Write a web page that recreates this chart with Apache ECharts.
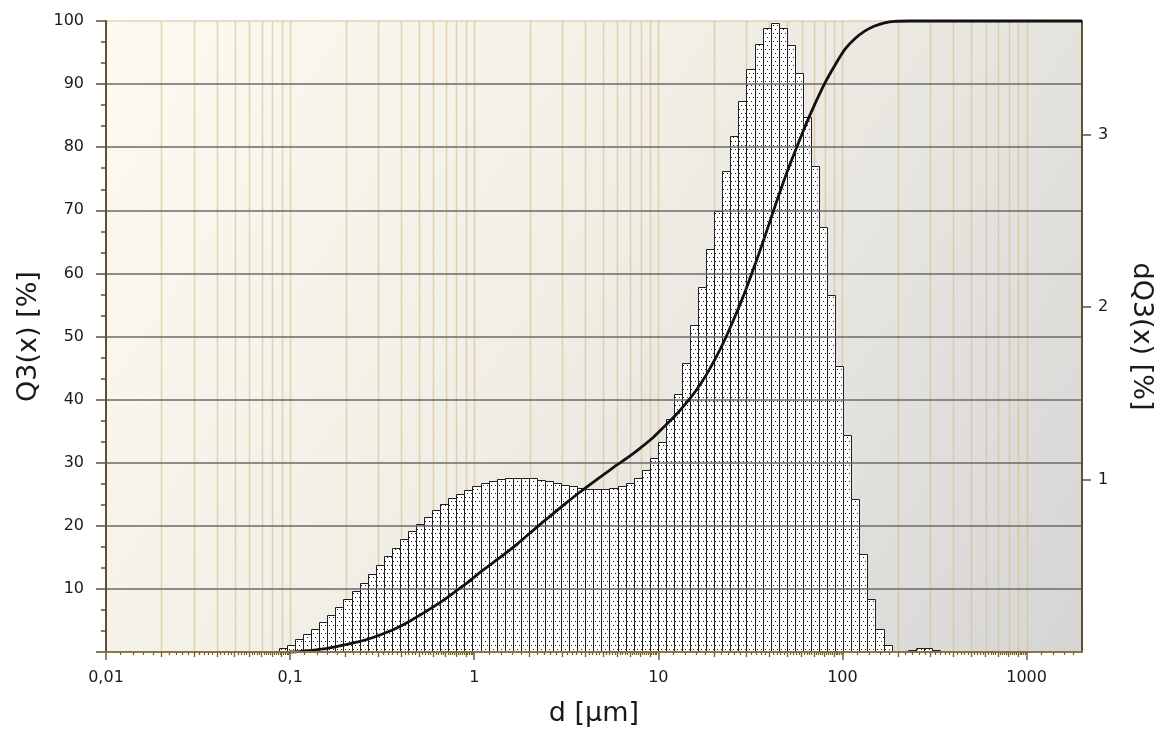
<!DOCTYPE html>
<html><head><meta charset="utf-8">
<script src="https://cdn.jsdelivr.net/npm/echarts@6/dist/echarts.min.js"></script>
<style>html,body{margin:0;padding:0;background:#fff;}#c{width:1163px;height:735px;}</style>
</head><body><div id="c"></div>
<script>
// ---- data ----
const binEdges = [0.0870, 0.09625, 0.1065, 0.1177, 0.1302, 0.1441, 0.1594, 0.1762, 0.1949, 0.2157,
  0.2385, 0.2638, 0.2917, 0.3227, 0.3569, 0.3948, 0.4367, 0.4830, 0.5341, 0.5908,
  0.6535, 0.7228, 0.7994, 0.8842, 0.9779, 1.0816, 1.1964, 1.3232, 1.4633, 1.6189,
  1.7906, 1.9808, 2.1908, 2.4230, 2.6800, 2.9644, 3.2786, 3.6267, 4.0105, 4.4361,
  4.9068, 5.4275, 6.0034, 6.6391, 7.3435, 8.1228, 8.9847, 9.9380, 10.990, 12.157,
  13.447, 14.874, 16.452, 18.193, 20.124, 22.259, 24.621, 27.233, 30.116, 33.312,
  36.846, 40.756, 45.082, 49.855, 55.145, 60.996, 67.469, 74.628, 82.531, 91.288,
  100.97, 111.69, 123.54, 136.63, 151.13, 167.17, 184.91, 204.53, 226.18, 250.19,
  276.73, 306.09, 338.57];
const dQ3 = [0.022, 0.040, 0.077, 0.106, 0.135, 0.175, 0.215, 0.259, 0.307, 0.354,
  0.402, 0.453, 0.504, 0.555, 0.606, 0.653, 0.701, 0.745, 0.785, 0.825,
  0.861, 0.891, 0.916, 0.942, 0.960, 0.978, 0.993, 1.004, 1.007, 1.011,
  1.011, 1.007, 1.000, 0.989, 0.978, 0.971, 0.960, 0.953, 0.945, 0.945,
  0.945, 0.953, 0.964, 0.982, 1.011, 1.055, 1.124, 1.219, 1.351, 1.497,
  1.679, 1.898, 2.117, 2.336, 2.559, 2.792, 2.993, 3.197, 3.380, 3.526,
  3.617, 3.650, 3.621, 3.519, 3.358, 3.103, 2.818, 2.467, 2.070, 1.661,
  1.256, 0.887, 0.569, 0.307, 0.131, 0.040, 0, 0, 0.011, 0.022, 0.022, 0.011];
const q3Size = [0.0983, 0.1112, 0.1260, 0.1427, 0.1615, 0.1945, 0.2344, 0.2824, 0.3279, 0.3852,
  0.4528, 0.5454, 0.6572, 0.7821, 0.9190, 1.107, 1.384, 1.711, 2.112, 2.576,
  3.184, 3.694, 4.234, 4.977, 5.923, 6.958, 7.879, 9.374, 11.02, 12.48,
  14.12, 15.99, 18.11, 20.50, 23.21, 26.28, 29.76, 33.70, 38.15, 43.19,
  48.90, 55.37, 62.70, 70.99, 80.37, 91.02, 103.0, 116.7, 132.1, 149.6,
  169.3, 191.7, 231.0, 2000];
const q3Value = [0, 0.05, 0.2, 0.4, 0.6, 1.1, 1.6, 2.3, 3.0, 3.9,
  5.0, 6.4, 7.9, 9.5, 11.0, 12.9, 15.0, 17.1, 19.4, 21.5,
  23.7, 25.2, 26.5, 28.0, 29.6, 31.0, 32.2, 34.0, 36.0, 37.6,
  39.4, 41.4, 43.8, 46.6, 49.8, 53.4, 57.3, 61.6, 66.1, 70.8,
  75.3, 79.4, 83.3, 86.9, 90.2, 93.0, 95.5, 97.2, 98.4, 99.2,
  99.7, 99.95, 100, 100];
const xLabelValues = [0.01, 0.1, 1, 10, 100, 1000];
const decades = [0.01, 0.1, 1, 10, 100, 1000];
const gridMultipliers = [1, 2, 3, 4, 5, 6, 7, 8, 9];
const fineMultipliers = [1.2, 1.4, 1.6, 1.8, 2.2, 2.4, 2.6, 2.8, 3.2, 3.4, 3.6, 3.8,
  4.2, 4.4, 4.6, 4.8, 5.2, 5.4, 5.6, 5.8, 6.2, 6.4, 6.6, 6.8, 7.2, 7.4, 7.6, 7.8,
  8.2, 8.4, 8.6, 8.8, 9.2, 9.4, 9.6, 9.8];
const rightLabelValues = [1, 2, 3];
const xMin = 0.01, xMax = 2000;

// ---- derived tables ----
const gridValues = [];
const midTicks = [];
const fineTicks = [];
decades.forEach(d => {
  gridMultipliers.forEach(m => { const v = +(d * m).toPrecision(6); if (v > xMin && v < xMax) gridValues.push(v); if (m > 1 && v < xMax) midTicks.push(v); });
  fineMultipliers.forEach(m => { const v = +(d * m).toPrecision(6); if (v < xMax) fineTicks.push(v); });
});
const bins = dQ3.map((v, i) => [binEdges[i], binEdges[i + 1], v]);
const q3Data = q3Size.map((s, i) => [s, q3Value[i]]);

// dotted fill pattern
const pat = document.createElement('canvas');
pat.width = 4; pat.height = 8;
const pc = pat.getContext('2d');
pc.fillStyle = '#ffffff'; pc.fillRect(0, 0, 4, 8);
pc.fillStyle = '#222222'; pc.fillRect(1, 1, 1, 1); pc.fillRect(3, 5, 1, 1);

const FONT = 'DejaVu Sans';
const brown = '#5e5030';
const tickBrown = '#7a5f24';

const chart = echarts.init(document.getElementById('c'));
chart.setOption({
  animation: false,
  backgroundColor: '#ffffff',
  grid: {
    left: 106, right: 73, top: 21, bottom: 83, show: true,
    borderColor: '#cdbf99', borderWidth: 1,
    backgroundColor: { type: 'linear', x: 0, y: 0, x2: 1, y2: 1,
      colorStops: [{ offset: 0, color: '#fdfaf1' }, { offset: 0.45, color: '#f1eee5' }, { offset: 1, color: '#d5d5d5' }] }
  },
  xAxis: [
    { type: 'log', logBase: 10, min: xMin, max: xMax, position: 'bottom', z: 5,
      name: 'd [µm]', nameLocation: 'middle', nameGap: 48,
      nameTextStyle: { fontFamily: FONT, fontSize: 27, color: '#1a1a1a' },
      axisLine: { show: true, lineStyle: { color: '#8a7646', width: 2 } },
      axisTick: { show: true, customValues: decades, length: 8, lineStyle: { color: tickBrown, width: 1.5 } },
      axisLabel: { customValues: xLabelValues, margin: 18, fontFamily: FONT, fontSize: 16, color: '#1a1a1a',
        formatter: v => String(v).replace('.', ',') },
      splitLine: { show: false }, minorTick: { show: false } },
    { type: 'log', logBase: 10, min: xMin, max: xMax, position: 'bottom', z: 5,
      axisLine: { show: false }, axisLabel: { show: false },
      axisTick: { show: true, customValues: midTicks, length: 5, lineStyle: { color: tickBrown, width: 1.3 } },
      splitLine: { show: false } },
    { type: 'log', logBase: 10, min: xMin, max: xMax, position: 'bottom', z: 5,
      axisLine: { show: false }, axisLabel: { show: false },
      axisTick: { show: true, customValues: fineTicks, length: 3, lineStyle: { color: tickBrown, width: 1.2 } },
      splitLine: { show: false } }
  ],
  yAxis: [
    { type: 'value', min: 0, max: 100, interval: 10, position: 'left', z: 3,
      name: 'Q3(x) [%]', nameLocation: 'middle', nameGap: 55,
      nameTextStyle: { fontFamily: FONT, fontSize: 27, color: '#1a1a1a' },
      axisLine: { show: true, lineStyle: { color: brown, width: 2 } },
      axisTick: { show: true, length: 10, lineStyle: { color: brown, width: 1.5 } },
      minorTick: { show: true, splitNumber: 3, length: 5, lineStyle: { color: brown, width: 1.5 } },
      axisLabel: { showMinLabel: false, margin: 22, fontFamily: FONT, fontSize: 16, color: '#1a1a1a' },
      splitLine: { show: true, showMinLine: false, showMaxLine: false, lineStyle: { color: '#6a6a6a', width: 1.5 } } },
    { type: 'value', min: 0, max: 3.66, position: 'right', z: 3,
      name: 'dQ3(x) [%]', nameLocation: 'middle', nameRotate: -90, nameGap: 46,
      nameTextStyle: { fontFamily: FONT, fontSize: 27, color: '#1a1a1a' },
      axisLine: { show: true, lineStyle: { color: brown, width: 2 } },
      axisTick: { show: true, customValues: rightLabelValues, length: 9, lineStyle: { color: brown, width: 1.5 } },
      axisLabel: { customValues: rightLabelValues, margin: 16, fontFamily: FONT, fontSize: 16, color: '#1a1a1a' },
      splitLine: { show: false } }
  ],
  series: [
    { type: 'custom', name: 'grid', silent: true, z: 1, xAxisIndex: 0, yAxisIndex: 0,
      data: gridValues.map(v => [v, 0]), encode: { x: 0, y: 1 },
      renderItem: (params, api) => {
        const v = api.value(0);
        const a = api.coord([v, 0]), b = api.coord([v, 100]);
        const x = Math.round(a[0]) + 0.5;
        return { type: 'line', shape: { x1: x, y1: a[1], x2: x, y2: b[1] },
          style: { stroke: 'rgba(212,190,138,0.6)', lineWidth: 1.5 } };
      } },
    { type: 'custom', name: 'dQ3', z: 2, xAxisIndex: 0, yAxisIndex: 1,
      data: bins, encode: { x: [0, 1], y: 2 },
      renderItem: (params, api) => {
        const v = api.value(2);
        if (!(v > 0)) return null;
        const p0 = api.coord([api.value(0), v]);
        const p1 = api.coord([api.value(1), 0]);
        const x0 = Math.round(p0[0]) + 0.5, x1 = Math.round(p1[0]) + 0.5;
        const y0 = Math.round(p0[1]) + 0.5, y1 = p1[1];
        return { type: 'rect', shape: { x: x0, y: y0, width: x1 - x0, height: y1 - y0 },
          style: { fill: { image: pat, repeat: 'repeat' }, stroke: '#1e1e1e', lineWidth: 1 } };
      } },
    { type: 'line', name: 'Q3', z: 4, xAxisIndex: 0, yAxisIndex: 0, data: q3Data,
      smooth: 0.2, symbol: 'none', clip: false,
      lineStyle: { color: '#111111', width: 2.8 } }
  ]
});
</script></body></html>
